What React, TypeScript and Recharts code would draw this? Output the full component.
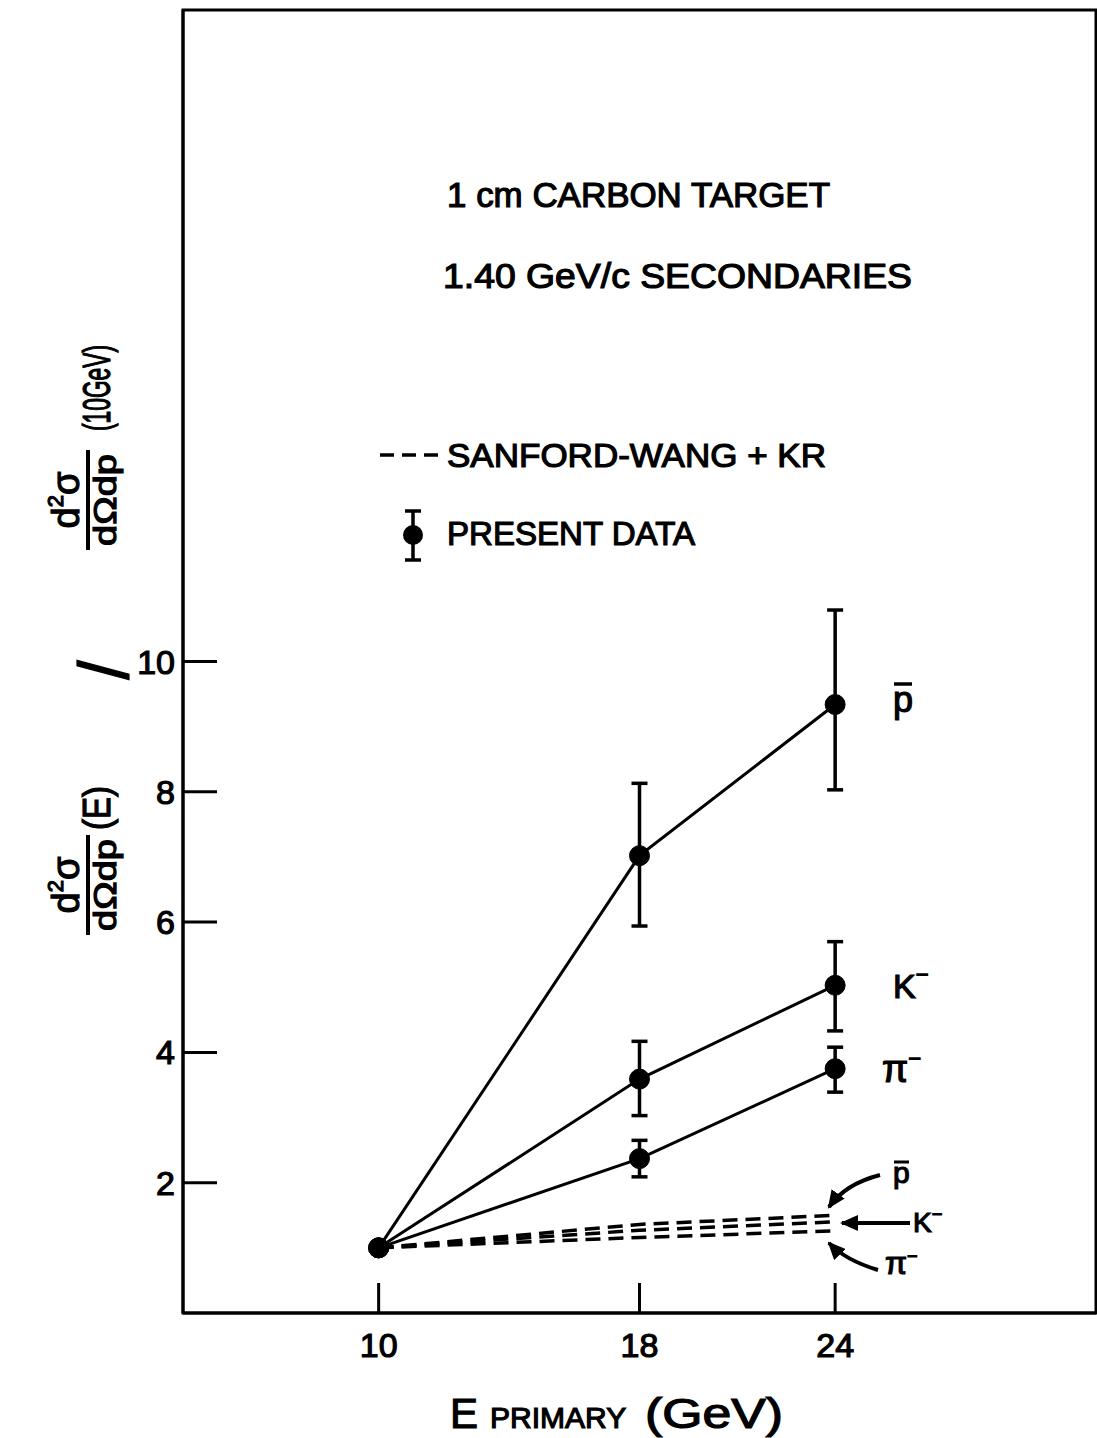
import React from 'react'
import {
  LineChart,
  Line,
  XAxis,
  YAxis,
  ErrorBar,
  ReferenceArea,
} from 'recharts'

// primary beam energy (GeV)
const energies = [10, 18, 24]

// present data, ratio to 10 GeV, with error bar ends
const pbar = [1.0, 7.02, 9.34]
const pbarLow = [null, 5.94, 8.03]
const pbarHigh = [null, 8.13, 10.79]

const kMinus = [1.0, 3.59, 5.03]
const kMinusLow = [null, 3.03, 4.33]
const kMinusHigh = [null, 4.17, 5.7]

const piMinus = [1.0, 2.37, 3.75]
const piMinusLow = [null, 2.09, 3.39]
const piMinusHigh = [null, 2.65, 4.08]

// Sanford-Wang + KR prediction
const swPbar = [1.0, 1.36, 1.5]
const swKMinus = [1.0, 1.27, 1.4]
const swPiMinus = [1.0, 1.16, 1.26]

const xTicks = [10, 18, 24]
const yTicks = [2, 4, 6, 8, 10]

const err = (v: number, lo: number | null, hi: number | null) =>
  lo == null || hi == null ? null : [v - lo, hi - v]

const data = energies.map((e, i) => ({
  e,
  pbar: pbar[i],
  pbarErr: err(pbar[i], pbarLow[i], pbarHigh[i]),
  k: kMinus[i],
  kErr: err(kMinus[i], kMinusLow[i], kMinusHigh[i]),
  pi: piMinus[i],
  piErr: err(piMinus[i], piMinusLow[i], piMinusHigh[i]),
  swPbar: swPbar[i],
  swK: swKMinus[i],
  swPi: swPiMinus[i],
}))

const FONT = '"Liberation Sans", Arial, sans-serif'
const ink = { fill: '#000', stroke: '#000', strokeWidth: 1.2, fontFamily: FONT }
const tickStyle = { ...ink, fontSize: 34 }
const dot = { r: 10, fill: '#000', stroke: '#000', strokeWidth: 1 }

function Fraction({ cx }: { cx: number }) {
  return (
    <g>
      <text x={cx} y={-9} textAnchor="middle" fontSize={38} {...ink}>
        d<tspan dy={-16} fontSize={22}>2</tspan>
        <tspan dy={16}>σ</tspan>
      </text>
      <line x1={cx - 50} x2={cx + 50} y1={0} y2={0} stroke="#000" strokeWidth={4} />
      <text
        x={cx}
        y={28}
        textAnchor="middle"
        fontSize={32}
        textLength={92}
        lengthAdjust="spacingAndGlyphs"
        {...ink}
      >
        dΩdp
      </text>
    </g>
  )
}

function Overlay() {
  return (
    <svg
      width={1097}
      height={1438}
      style={{ position: 'absolute', left: 0, top: 0, pointerEvents: 'none' }}
    >
      <defs>
        <marker
          id="arrow"
          markerWidth={18}
          markerHeight={16}
          refX={16}
          refY={8}
          orient="auto"
          markerUnits="userSpaceOnUse"
        >
          <path d="M0,0 L18,8 L0,16 Z" fill="#000" />
        </marker>
      </defs>

      {/* y axis title */}
      <g transform="translate(88,640) rotate(-90)">
        <Fraction cx={-245} />
        <text x={-168} y={22} textAnchor="middle" fontSize={38} textLength={44} lengthAdjust="spacingAndGlyphs" {...ink}>
          (E)
        </text>
        <text x={-30} y={40} textAnchor="middle" fontSize={70} {...ink}>
          /
        </text>
        <Fraction cx={140} />
        <text x={252} y={22} textAnchor="middle" fontSize={38} textLength={86} lengthAdjust="spacingAndGlyphs" {...ink}>
          (10GeV)
        </text>
      </g>

      {/* x axis title */}
      <text x={450} y={1428} fontSize={42} {...ink}>
        E
        <tspan dx={12} fontSize={30}>PRIMARY</tspan>
      </text>
      <text x={645} y={1428} fontSize={42} textLength={138} lengthAdjust="spacingAndGlyphs" {...ink}>
        (GeV)
      </text>

      {/* header */}
      <text x={447} y={207} fontSize={35} textLength={383} lengthAdjust="spacingAndGlyphs" {...ink}>
        1 cm  CARBON  TARGET
      </text>
      <text x={443} y={288} fontSize={35} textLength={469} lengthAdjust="spacingAndGlyphs" {...ink}>
        1.40  GeV/c  SECONDARIES
      </text>

      {/* legend */}
      <line x1={380} x2={442} y1={455} y2={455} stroke="#000" strokeWidth={3.5} strokeDasharray="14 8" />
      <text x={447} y={467} fontSize={34} textLength={379} lengthAdjust="spacingAndGlyphs" {...ink}>
        SANFORD-WANG + KR
      </text>
      <line x1={413} x2={413} y1={511} y2={560} stroke="#000" strokeWidth={3.5} />
      <line x1={405} x2={421} y1={511} y2={511} stroke="#000" strokeWidth={3.5} />
      <line x1={405} x2={421} y1={560} y2={560} stroke="#000" strokeWidth={3.5} />
      <circle cx={413} cy={535} r={10} fill="#000" />
      <text x={447} y={545} fontSize={34} textLength={248} lengthAdjust="spacingAndGlyphs" {...ink}>
        PRESENT  DATA
      </text>

      {/* series labels, present data */}
      <text x={893} y={712} fontSize={36} {...ink}>p</text>
      <line x1={894} x2={912} y1={684} y2={684} stroke="#000" strokeWidth={3.5} />
      <text x={893} y={998} fontSize={34} {...ink}>
        K<tspan dy={-16} fontSize={22}>−</tspan>
      </text>
      <text x={882} y={1082} fontSize={38} {...ink}>
        π<tspan dy={-16} fontSize={22}>−</tspan>
      </text>

      {/* series labels, Sanford-Wang */}
      <text x={893} y={1183} fontSize={30} {...ink}>p</text>
      <line x1={894} x2={909} y1={1162} y2={1162} stroke="#000" strokeWidth={3} />
      <text x={913} y={1232} fontSize={28} {...ink}>
        K<tspan dy={-12} fontSize={18}>−</tspan>
      </text>
      <text x={885} y={1274} fontSize={32} {...ink}>
        π<tspan dy={-12} fontSize={18}>−</tspan>
      </text>
      <path d="M880,1175 Q845,1184 829,1207" fill="none" stroke="#000" strokeWidth={4} markerEnd="url(#arrow)" />
      <path d="M910,1223 L842,1223" fill="none" stroke="#000" strokeWidth={4} markerEnd="url(#arrow)" />
      <path d="M878,1270 Q845,1260 829,1243" fill="none" stroke="#000" strokeWidth={4} markerEnd="url(#arrow)" />
    </svg>
  )
}

export default function App() {
  return (
    <div style={{ position: 'absolute', left: 0, top: 0, width: 1097, height: 1438, background: '#fff' }}>
      <LineChart
        width={1097}
        height={1438}
        data={data}
        margin={{ top: 10, right: 1, bottom: 95, left: 123 }}
      >
        <ReferenceArea x1={4} x2={32} y1={0} y2={20} fill="none" stroke="#000" strokeWidth={3} />
        <XAxis
          type="number"
          dataKey="e"
          domain={[4, 32]}
          ticks={xTicks}
          allowDataOverflow
          axisLine={{ stroke: '#000', strokeWidth: 3 }}
          tickLine={{ stroke: '#000', strokeWidth: 3 }}
          tickSize={-30}
          tickMargin={50}
          tick={tickStyle}
        />
        <YAxis
          type="number"
          domain={[0, 20]}
          ticks={yTicks}
          allowDataOverflow
          axisLine={{ stroke: '#000', strokeWidth: 3 }}
          tickLine={{ stroke: '#000', strokeWidth: 3 }}
          tickSize={-34}
          tickMargin={42}
          tick={tickStyle}
        />
        <Line dataKey="swPbar" stroke="#000" strokeWidth={3.5} strokeDasharray="15 8" dot={false} isAnimationActive={false} />
        <Line dataKey="swK" stroke="#000" strokeWidth={3.5} strokeDasharray="15 8" dot={false} isAnimationActive={false} />
        <Line dataKey="swPi" stroke="#000" strokeWidth={3.5} strokeDasharray="15 8" dot={false} isAnimationActive={false} />
        <Line dataKey="pbar" stroke="#000" strokeWidth={3} dot={dot} isAnimationActive={false}>
          <ErrorBar dataKey="pbarErr" width={8} stroke="#000" strokeWidth={3.5} direction="y" />
        </Line>
        <Line dataKey="k" stroke="#000" strokeWidth={3} dot={dot} isAnimationActive={false}>
          <ErrorBar dataKey="kErr" width={8} stroke="#000" strokeWidth={3.5} direction="y" />
        </Line>
        <Line dataKey="pi" stroke="#000" strokeWidth={3} dot={dot} isAnimationActive={false}>
          <ErrorBar dataKey="piErr" width={8} stroke="#000" strokeWidth={3.5} direction="y" />
        </Line>
      </LineChart>
      <Overlay />
    </div>
  )
}
